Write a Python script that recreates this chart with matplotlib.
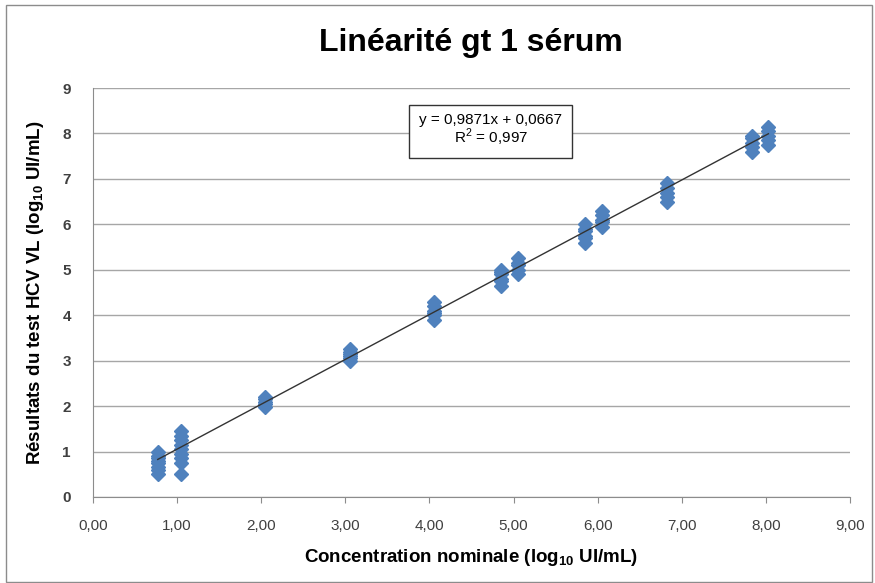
import matplotlib
matplotlib.use("Agg")
import matplotlib.pyplot as plt
from matplotlib.patches import Rectangle
from matplotlib.ticker import FuncFormatter

# ---- data ----
nominal = [0.77, 1.05, 2.05, 3.05, 4.05, 4.85, 5.05, 5.85, 6.05, 6.83, 7.83, 8.03]
measured = [
    [0.5, 0.6, 0.65, 0.75, 0.8, 0.85, 0.9, 1.0],
    [0.5, 0.75, 0.85, 0.95, 1.05, 1.15, 1.25, 1.35, 1.45],
    [1.98, 2.05, 2.1, 2.15, 2.2],
    [3.0, 3.05, 3.1, 3.15, 3.2, 3.25],
    [3.9, 4.0, 4.05, 4.1, 4.2, 4.3],
    [4.65, 4.75, 4.8, 4.9, 4.95, 5.0],
    [4.9, 5.0, 5.1, 5.15, 5.25],
    [5.6, 5.7, 5.75, 5.85, 5.9, 6.0],
    [5.95, 6.05, 6.1, 6.2, 6.3],
    [6.5, 6.6, 6.7, 6.8, 6.9],
    [7.6, 7.7, 7.8, 7.9, 7.95],
    [7.75, 7.85, 7.95, 8.05, 8.15],
]
slope = 0.9871
intercept = 0.0667
r2 = 0.997
x_ticks = [0, 1, 2, 3, 4, 5, 6, 7, 8, 9]
y_ticks = [0, 1, 2, 3, 4, 5, 6, 7, 8, 9]
title = "Linéarité gt 1 sérum"
xlabel = "Concentration nominale (log$_{\\mathbf{10}}$ UI/mL)"
ylabel = "Résultats du test HCV VL (log$_{\\mathbf{10}}$ UI/mL)"

plt.rcParams['font.family'] = ['Liberation Sans', 'DejaVu Sans']
plt.rcParams['mathtext.fontset'] = 'custom'
plt.rcParams['mathtext.rm'] = 'Liberation Sans'
plt.rcParams['mathtext.bf'] = 'Liberation Sans:bold'

fig = plt.figure(figsize=(8.75, 5.83), dpi=100)
fig.patches.append(Rectangle((6/875, 1 - 582/583), 866/875, 577/583, transform=fig.transFigure,
                             fill=False, edgecolor='#8c8c8c', linewidth=1.0))
ax = fig.add_axes([93/875, 1 - 497/583, (850 - 93)/875, (497 - 88)/583])

xs, ys = [], []
for xv, yl in zip(nominal, measured):
    for yv in yl:
        xs.append(xv)
        ys.append(yv)
ax.plot(xs, ys, linestyle='none', marker='D', markersize=7.5, color='#4F81BD',
        markeredgecolor='#4F81BD', zorder=3)

x0, x1 = min(nominal), max(nominal)
ax.plot([x0, x1], [slope * x0 + intercept, slope * x1 + intercept], color='#333333',
        linewidth=1.0, zorder=4)

ax.set_xlim(0, 9)
ax.set_ylim(0, 9)
ax.set_xticks(x_ticks)
ax.set_yticks(y_ticks)
ax.xaxis.set_major_formatter(FuncFormatter(lambda v, p: f"{v:.2f}".replace('.', ',')))
ax.yaxis.set_major_formatter(FuncFormatter(lambda v, p: f"{int(v)}"))
ax.tick_params(axis='both', labelsize=11, colors='#404040', length=0, pad=16)
ax.tick_params(axis='x', length=4, color='#8c8c8c', direction='out', pad=12)
for lbl in ax.get_yticklabels():
    lbl.set_fontweight('bold')
ax.grid(axis='y', color='#a6a6a6', linewidth=1.0)
ax.set_axisbelow(True)
for s in ['top', 'right']:
    ax.spines[s].set_visible(False)
for s in ['left', 'bottom']:
    ax.spines[s].set_color('#8c8c8c')

ax.set_xlabel(xlabel, fontsize=13.5, fontweight='bold', labelpad=10)
ax.set_ylabel(ylabel, fontsize=13.5, fontweight='bold', labelpad=12)

fig.text(471/875, 1 - 43/583, title, ha='center', va='center', fontsize=23, fontweight='bold')

eq = f"y = {slope:.4f}x + {intercept:.4f}".replace('.', ',') + "\n" + f"R$^2$ = {r2:.3f}".replace('.', ',')
ax.text(4.73, 8.06, eq, ha='center', va='center', fontsize=11, multialignment='center',
        linespacing=1.0,
        bbox=dict(boxstyle='square,pad=0.65', facecolor='white', edgecolor='#333333', linewidth=1.0),
        zorder=5)

fig.savefig("out.png", dpi=100)
